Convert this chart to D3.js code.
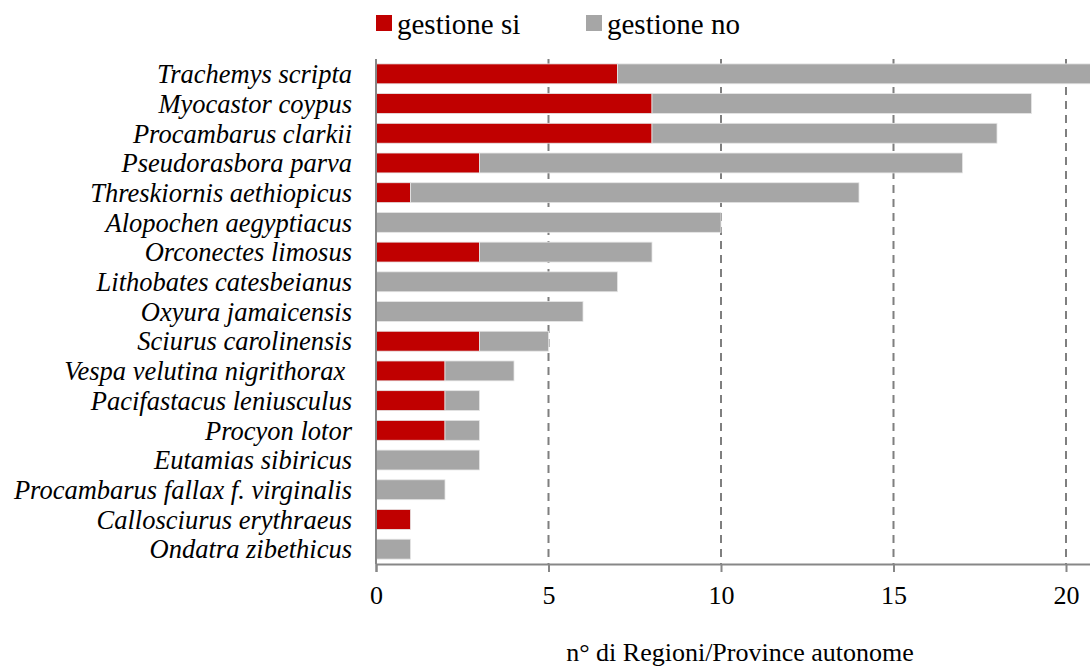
<!DOCTYPE html>
<html>
<head>
<meta charset="utf-8">
<script src="https://cdn.jsdelivr.net/npm/d3@7"></script>
<style>
  html, body { margin: 0; padding: 0; background: #fff; }
  svg { display: block; font-family: "Liberation Serif", "Times New Roman", serif; }
  .cat { font-family: "Liberation Serif", serif; font-style: italic; }
</style>
</head>
<body>
<svg id="chart" width="1090" height="669"></svg>
<script>
// Species, in display order (top to bottom)
const species = [
  "Trachemys scripta",
  "Myocastor coypus",
  "Procambarus clarkii",
  "Pseudorasbora parva",
  "Threskiornis aethiopicus",
  "Alopochen aegyptiacus",
  "Orconectes limosus",
  "Lithobates catesbeianus",
  "Oxyura jamaicensis",
  "Sciurus carolinensis",
  "Vespa velutina nigrithorax ",
  "Pacifastacus leniusculus",
  "Procyon lotor",
  "Eutamias sibiricus",
  "Procambarus fallax f. virginalis",
  "Callosciurus erythraeus",
  "Ondatra zibethicus"
];
// Number of Regions/Autonomous Provinces with management
const gestioneSi = [7, 8, 8, 3, 1, 0, 3, 0, 0, 3, 2, 2, 2, 0, 0, 1, 0];
// Number of Regions/Autonomous Provinces without management
const gestioneNo = [14, 11, 10, 14, 13, 10, 5, 7, 6, 2, 2, 1, 1, 3, 2, 0, 1];

const seriesNames = ["gestione si", "gestione no"];
const seriesColors = ["#C00000", "#A6A6A6"];
const xTicks = [0, 5, 10, 15, 20];
const xTitle = "n° di Regioni/Province autonome";

const svg = d3.select("#chart");

const x = d3.scaleLinear().domain([0, 21]).range([376, 376 + 21 * 34.5]);
const y = d3.scaleBand().domain(species).range([59, 564]).paddingInner(0.33).paddingOuter(0.165);

const axisColor = "#878787";
const axisY = 564;

// Vertical dashed gridlines
svg.append("g")
  .selectAll("line")
  .data(xTicks.filter(d => d > 0))
  .join("line")
  .attr("x1", d => x(d)).attr("x2", d => x(d))
  .attr("y1", 59).attr("y2", axisY)
  .attr("stroke", "#7f7f7f")
  .attr("stroke-width", 2)
  .attr("stroke-dasharray", "8,6");

// Stacked bars
const rows = species.map((s, i) => ({ s, si: gestioneSi[i], no: gestioneNo[i] }));
const stack = d3.stack().keys(["si", "no"])(rows);

svg.append("g")
  .selectAll("g")
  .data(stack)
  .join("g")
  .attr("fill", (d, i) => seriesColors[i])
  .selectAll("rect")
  .data(d => d)
  .join("rect")
  .attr("x", d => x(d[0]))
  .attr("y", d => y(d.data.s))
  .attr("width", d => Math.max(0, x(d[1]) - x(d[0])))
  .attr("height", y.bandwidth())
  .attr("stroke", d => (d[1] - d[0]) > 0 ? "#e6e6e6" : "none")
  .attr("stroke-width", 0.8);

// X axis
const xAxis = svg.append("g")
  .attr("transform", `translate(0,${axisY})`)
  .call(d3.axisBottom(x).tickValues(xTicks).tickSize(8).tickPadding(14).tickFormat(d3.format("d")));
xAxis.select(".domain").attr("stroke", axisColor).attr("stroke-width", 2);
xAxis.selectAll(".tick line").attr("stroke", axisColor).attr("stroke-width", 2);
xAxis.selectAll(".tick text")
  .attr("fill", "#000")
  .style("font-size", "26px")
  .style("font-family", "Liberation Serif, serif");

// Y axis line
svg.append("line")
  .attr("x1", x(0)).attr("x2", x(0))
  .attr("y1", 59).attr("y2", axisY)
  .attr("stroke", axisColor).attr("stroke-width", 2);

// Category labels
svg.append("g")
  .selectAll("text")
  .data(species)
  .join("text")
  .attr("class", "cat")
  .attr("x", 352)
  .attr("y", d => y(d) + y.bandwidth() / 2)
  .attr("dy", "0.35em")
  .attr("text-anchor", "end")
  .attr("font-size", "26.5px")
  .attr("fill", "#000")
  .attr("xml:space", "preserve")
  .text(d => d);

// Axis title
svg.append("text")
  .attr("x", 740)
  .attr("y", 661)
  .attr("text-anchor", "middle")
  .attr("font-size", "26px")
  .attr("fill", "#000")
  .text(xTitle);

// Legend
const legendX = [376, 586];
const legend = svg.append("g")
  .selectAll("g")
  .data(seriesNames)
  .join("g")
  .attr("transform", (d, i) => `translate(${legendX[i]},0)`);
legend.append("rect")
  .attr("x", 0).attr("y", 15)
  .attr("width", 16).attr("height", 16)
  .attr("fill", (d, i) => seriesColors[i]);
legend.append("text")
  .attr("x", 21).attr("y", 34)
  .attr("font-size", "29px")
  .attr("fill", "#000")
  .text(d => d);
</script>
</body>
</html>
